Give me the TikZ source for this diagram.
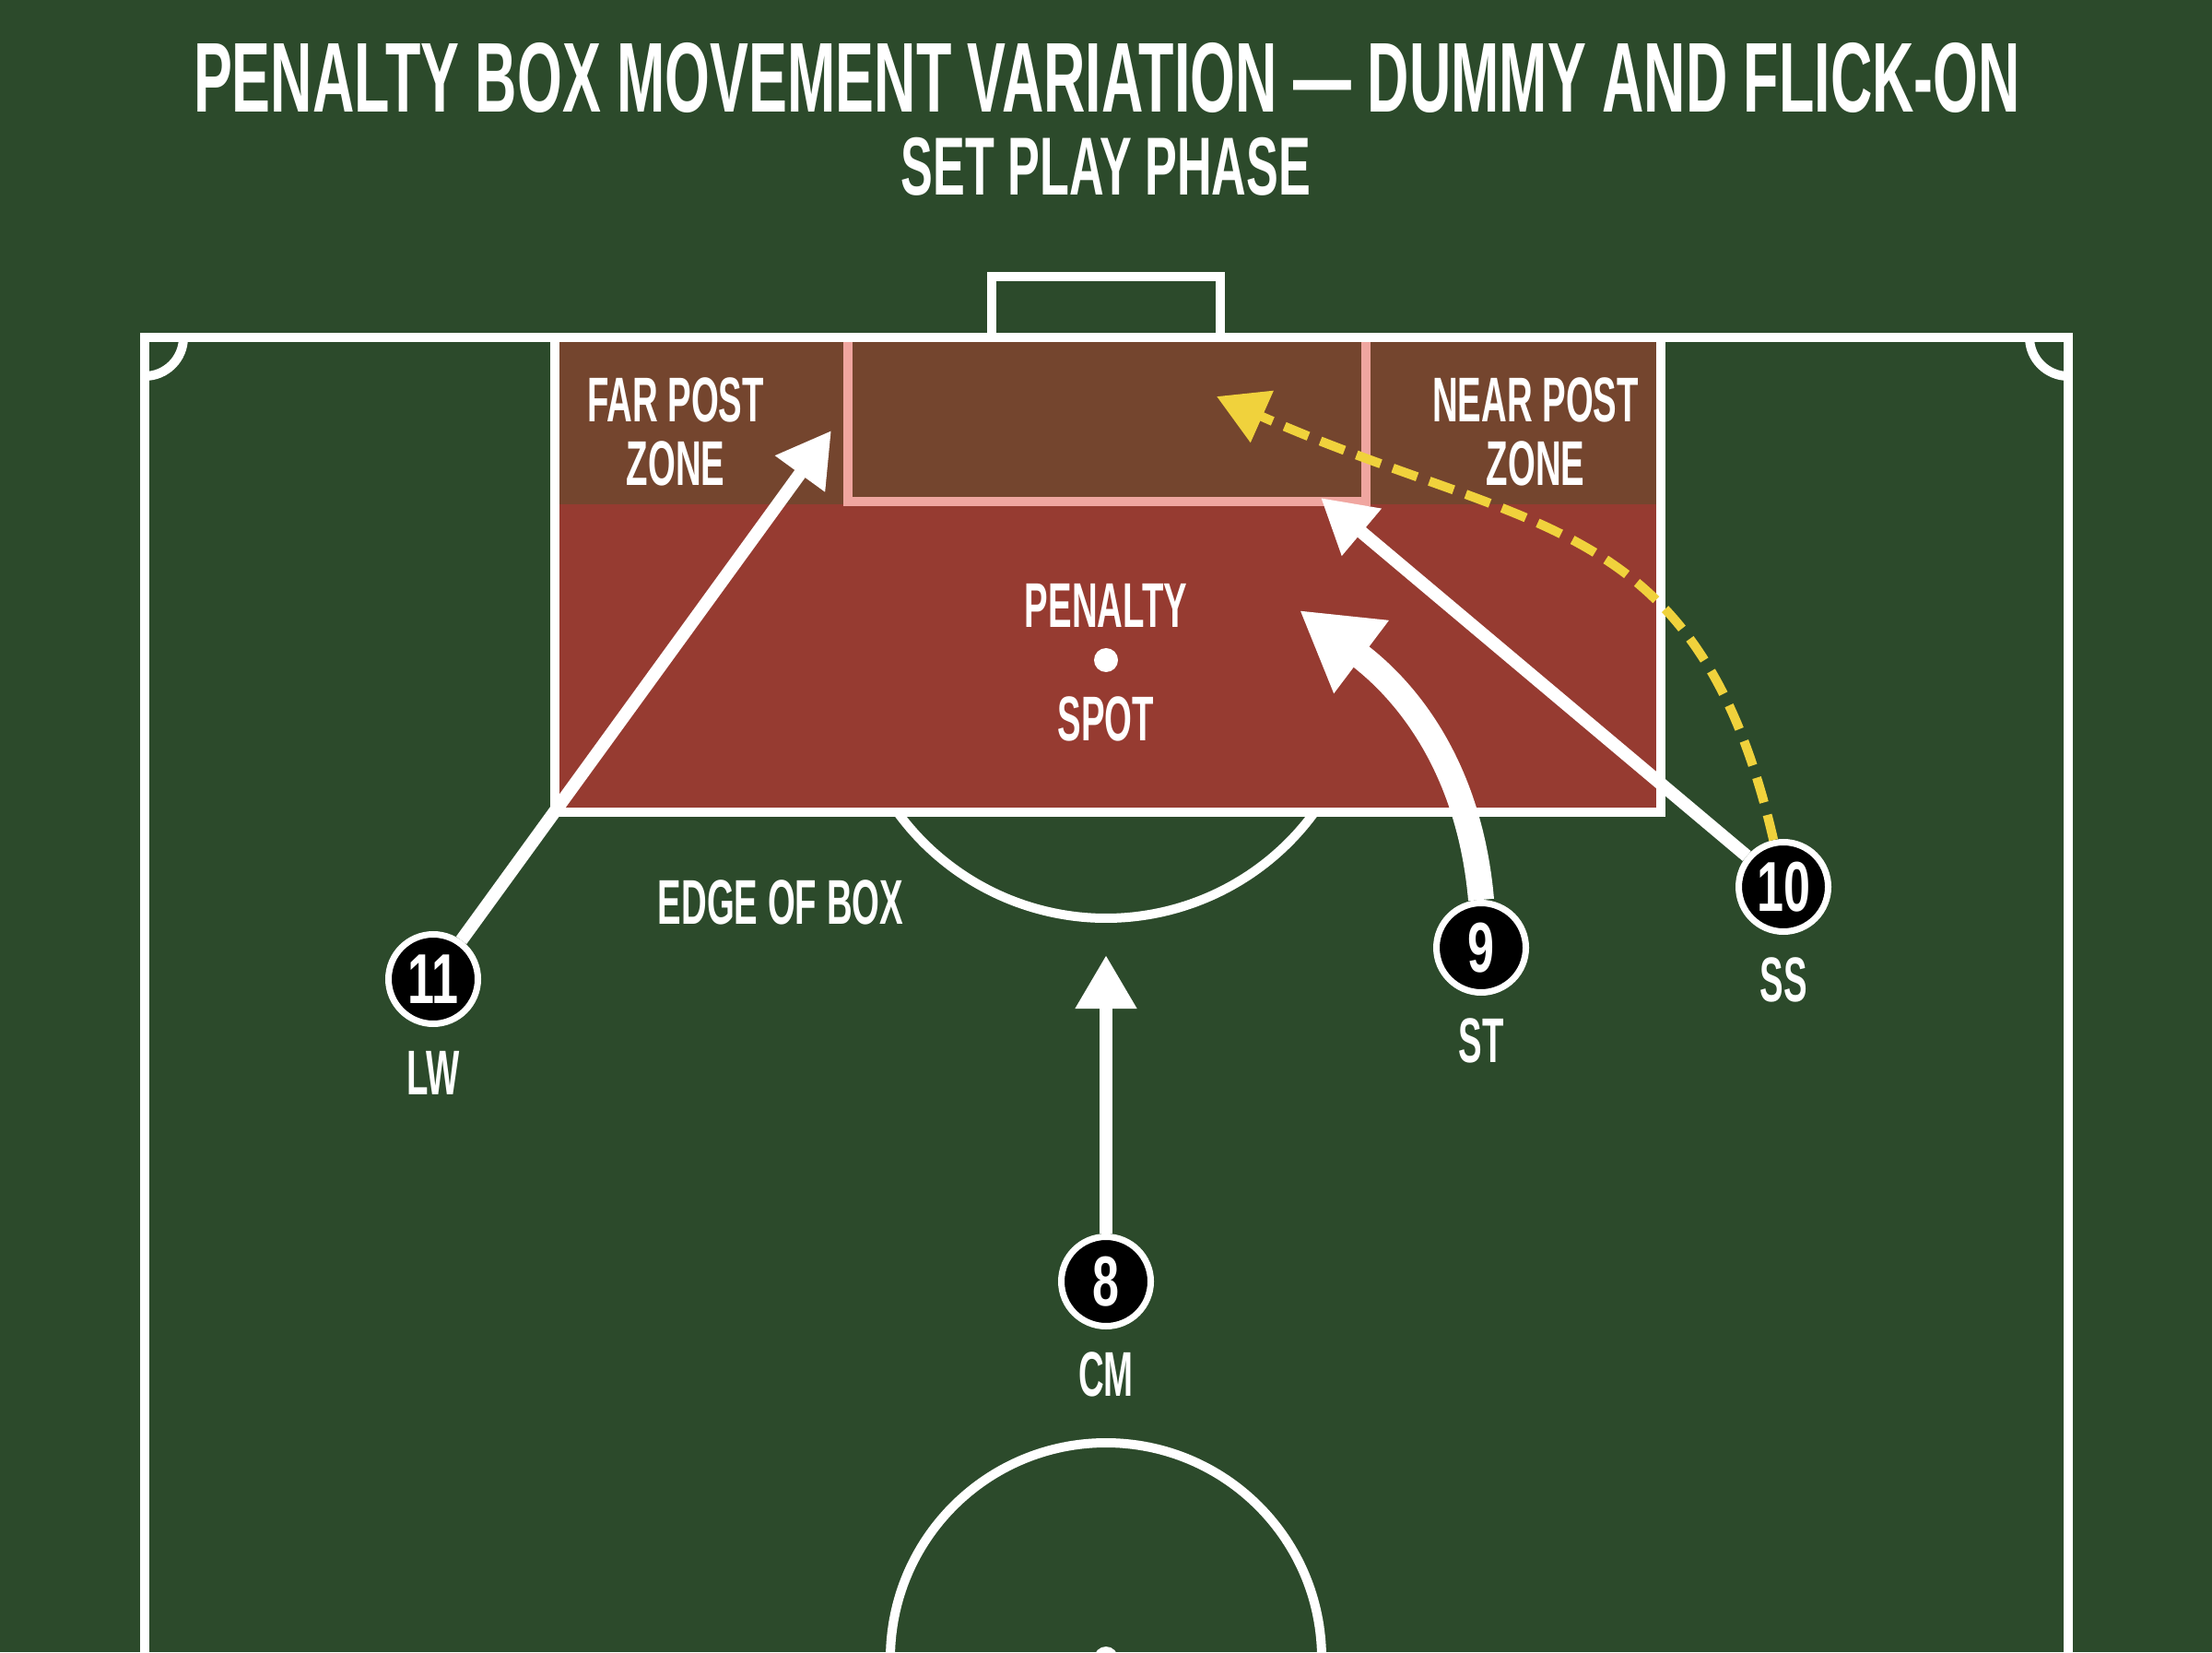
\documentclass[tikz,border=0pt]{standalone}
\usepackage{fontspec}
\newfontfamily\condfont{Liberation Sans}[FakeStretch=0.56]
\newfontfamily\titlefont{Liberation Sans}[FakeStretch=0.584]
\newfontfamily\numfont{Liberation Sans}[FakeStretch=0.68]
\usetikzlibrary{arrows.meta}
\usetikzlibrary{positioning}

\definecolor{pitchgreen}{RGB}{44,74,43}
\definecolor{boxred}{RGB}{150,59,49}
\definecolor{bandbrown}{RGB}{116,69,46}
\definecolor{areapink}{RGB}{240,166,160}
\definecolor{flickyellow}{RGB}{240,210,60}

\begin{document}
\begin{tikzpicture}[x=1cm, y=1cm,
  pitchline/.style={white, line width=0.1cm},
  player/.style={circle, draw=white, line width=0.07cm, fill=black, minimum size=0.97cm,
    inner sep=0, text=white, font=\numfont\bfseries\fontsize{21.8}{22}\selectfont},
  rolelabel/.style={text=white, inner sep=0, font=\condfont\bfseries\fontsize{19.5}{19.6}\selectfont},
  zonetext/.style={text=white, inner sep=0, align=center, font=\condfont\bfseries\fontsize{19.5}{19.6}\selectfont},
  runarrow/.style={white, line width=0.14cm, -{Triangle[length=0.58cm, width=0.63cm]}},
  curverun/.style={white, line width=0.28cm, -{Triangle[length=0.84cm, width=0.93cm]}},
  flickrun/.style={flickyellow, line width=0.1cm, dash pattern=on 0.28cm off 0.14cm,
    -{Triangle[length=0.54cm, width=0.59cm]}}]
  \useasboundingbox (0,0) rectangle (24,17.92);
  \fill[pitchgreen] (0,0) rectangle (24,17.92);
  \clip (0,0) rectangle (24,17.92);

  % penalty area zones
  \fill[boxred] (6.02,9.11) rectangle (18.02,14.26);
  \fill[bandbrown] (6.02,12.45) rectangle (18.02,14.26);
  \draw[areapink, line width=0.1cm] (9.20,14.26) -- (9.20,12.48) -- (14.82,12.48) -- (14.82,14.26);

  % pitch markings
  \draw[pitchline] (1.57,-0.5) -- (1.57,14.26) -- (22.44,14.26) -- (22.44,-0.5);
  \draw[pitchline] (1.99,14.26) arc[start angle=0, end angle=-90, radius=0.42];
  \draw[pitchline] (22.02,14.26) arc[start angle=180, end angle=270, radius=0.42];
  \draw[pitchline] (10.76,14.26) -- (10.76,14.92) -- (13.24,14.92) -- (13.24,14.26);
  \draw[pitchline] (6.02,14.26) rectangle (18.02,9.11);
  \node[circle, fill=white, minimum size=0.26cm, inner sep=0] (pspot) at (12,10.76) {};
  \draw[pitchline] ([shift={(-143.9:2.8)}]pspot.center) arc[start angle=-143.9, end angle=-36.1, radius=2.8];
  \draw[pitchline] (12,-0.07) circle[radius=2.34];
  \fill[white] (12,-0.07) circle[radius=0.13];

  % titles
  \node[text=white, inner sep=0, font=\titlefont\bfseries\fontsize{30.6}{31}\selectfont] (title) at (12.01,17.075)
    {PENALTY BOX MOVEMENT VARIATION — DUMMY AND FLICK-ON};
  \node[text=white, inner sep=0, font=\titlefont\bfseries\fontsize{25.4}{26}\selectfont] (subtitle) at (12,16.11)
    {SET PLAY PHASE};

  % zone labels
  \node[zonetext] (farzone) at (7.33,13.235) {FAR POST\\ZONE};
  \node[zonetext] (nearzone) at (16.66,13.235) {NEAR POST\\ZONE};
  \node[zonetext] (penlabel) at (12,11.35) {PENALTY};
  \node[zonetext] (spotlabel) at (12,10.12) {SPOT};
  \node[zonetext] (edgelabel) at (8.47,8.13) {EDGE OF BOX};

  % players
  \node[player] (p11) at (4.70,7.30) {11};
  \node[rolelabel, below=0.26 of p11] (lw) {LW};
  \node[player] (p8) at (12.00,4.02) {8};
  \node[rolelabel, below=0.24 of p8] (cm) {CM};
  \node[player] (p9) at (16.07,7.64) {9};
  \node[rolelabel, below=0.24 of p9] (st) {ST};
  \node[player] (p10) at (19.35,8.30) {10};
  \node[rolelabel, below=0.24 of p10] (ss) {SS};

  % runs
  \coordinate (fartip) at (9.02,13.25);
  \coordinate (neartip) at (14.33,12.52);
  \coordinate (cmtip) at (12.00,7.56);
  \coordinate (sttip) at (14.10,11.30);
  \coordinate (flicktip) at (13.20,13.62);
  \draw[runarrow] (p11) -- (fartip);
  \draw[runarrow] (p10) -- (neartip);
  \draw[runarrow] (p8) -- (cmtip);
  \draw[curverun] (p9.north) to[out=95, in=-37] (sttip);
  \draw[flickrun] (p10.102) to[out=103, in=-24, looseness=1.22] (flicktip);
\end{tikzpicture}
\end{document}
